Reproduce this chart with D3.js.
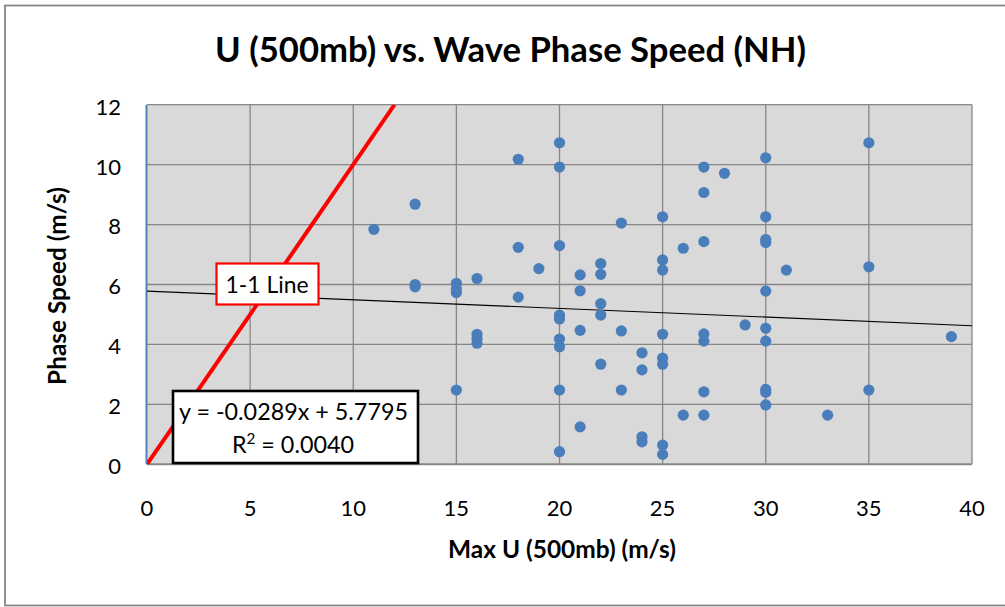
<!DOCTYPE html>
<html><head><meta charset="utf-8">
<script src="https://cdn.jsdelivr.net/npm/d3@7"></script>
<style>body{margin:0;background:#fff;} svg{display:block;}</style>
</head><body>
<svg id="c" width="1005" height="607"></svg>
<script>
const maxU = [11,13,13,13,15,15,15,15,16,16,16,16,18,18,18,19,
  20,20,20,20,20,20,20,20,20,21,21,21,21,22,22,22,22,22,23,23,23,
  24,24,24,24,25,25,25,25,25,25,25,25,26,26,27,27,27,27,27,27,27,28,29,
  30,30,30,30,30,30,30,30,30,30,31,33,35,35,35,39];
const phaseSpeed = [7.84,8.68,6.0,5.92,6.04,5.85,5.73,2.48,6.2,4.34,4.2,4.04,10.18,7.24,5.58,6.53,
  10.73,9.92,7.3,4.98,4.85,4.18,3.92,2.48,0.42,6.32,5.79,4.47,1.25,6.7,6.34,5.36,4.98,3.34,8.05,4.45,2.48,
  3.72,3.15,0.92,0.75,8.26,6.82,6.48,4.34,3.54,3.34,0.64,0.33,7.21,1.64,9.92,9.07,7.43,4.35,4.11,2.42,1.64,9.71,4.65,
  10.23,8.26,7.5,7.4,5.78,4.54,4.11,2.5,2.4,1.98,6.48,1.64,10.73,6.59,2.48,4.26];
const xTicks = [0,5,10,15,20,25,30,35,40];
const yTicks = [0,2,4,6,8,10,12];
const trendSlope = -0.0289, trendIntercept = 5.7795;
const titleText = "U (500mb) vs. Wave Phase Speed (NH)";
const xLabelText = "Max U (500mb) (m/s)";
const yLabelText = "Phase Speed (m/s)";
const eqLine1 = "y = -0.0289x + 5.7795";
const oneOneLabel = "1-1 Line";

const svg = d3.select("#c");
const FONT = "Lato, 'Open Sans', sans-serif";
const L = 147, R = 972, T = 104.7, B = 464.3;
const x = d3.scaleLinear().domain([0,40]).range([L,R]);
const y = d3.scaleLinear().domain([0,12]).range([B,T]);

function fit(sel, target) {
  const n = sel.node();
  const fs = parseFloat(sel.attr("font-size"));
  const w = n.getComputedTextLength();
  if (w > 0) sel.attr("font-size", (fs * target / w).toFixed(2));
}

// outer border
svg.append("rect").attr("x",5).attr("y",5.5).attr("width",1010).attr("height",600)
  .attr("fill","#fff").attr("stroke","#878787").attr("stroke-width",1.8);

// plot area
svg.append("rect").attr("x",L).attr("y",T).attr("width",R-L).attr("height",B-T).attr("fill","#d9d9d9");

const defs = svg.append("defs");
defs.append("clipPath").attr("id","clip").append("rect")
  .attr("x",L).attr("y",T).attr("width",R-L).attr("height",B-T);

// gridlines
svg.append("g").selectAll("line").data(xTicks.slice(1)).join("line")
  .attr("x1",d=>x(d)).attr("x2",d=>x(d)).attr("y1",T).attr("y2",B)
  .attr("stroke","#878787").attr("stroke-width",1.3);
svg.append("g").selectAll("line").data(yTicks.slice(1)).join("line")
  .attr("x1",L).attr("x2",R).attr("y1",d=>y(d)).attr("y2",d=>y(d))
  .attr("stroke","#878787").attr("stroke-width",1.3);
// bottom axis line
svg.append("line").attr("x1",L).attr("x2",R).attr("y1",B).attr("y2",B)
  .attr("stroke","#878787").attr("stroke-width",2);
// left axis line (blue)
svg.append("line").attr("x1",L-0.5).attr("x2",L-0.5).attr("y1",T).attr("y2",B)
  .attr("stroke","#4f81bd").attr("stroke-width",2);

// tick labels
svg.append("g").selectAll("text").data(xTicks).join("text")
  .attr("x",d=>x(d)).attr("y",516).attr("text-anchor","middle")
  .attr("font-family",FONT).attr("font-size",22).attr("fill","#000").text(d=>d);
svg.append("g").selectAll("text").data(yTicks).join("text")
  .attr("x",121).attr("y",d=>y(d)+9.9).attr("text-anchor","end")
  .attr("font-family",FONT).attr("font-size",22).attr("fill","#000").text(d=>d);

// trendline
const plotG = svg.append("g").attr("clip-path","url(#clip)");
plotG.append("line").attr("x1",x(0)).attr("y1",y(trendIntercept))
  .attr("x2",x(40)).attr("y2",y(trendIntercept+trendSlope*40))
  .attr("stroke","#000").attr("stroke-width",1.2);

// 1-1 line
plotG.append("line").attr("x1",x(0)).attr("y1",y(0)).attr("x2",x(12)).attr("y2",y(12))
  .attr("stroke","#ff0000").attr("stroke-width",4);

// points
svg.append("g").selectAll("circle").data(maxU.map((u,i)=>[u,phaseSpeed[i]])).join("circle")
  .attr("cx",d=>x(d[0])).attr("cy",d=>y(d[1])).attr("r",5.6).attr("fill","#4a7ebb");

// 1-1 label box
svg.append("rect").attr("x",216.5).attr("y",263.5).attr("width",102).attr("height",41)
  .attr("fill","#fff").attr("stroke","#ff0000").attr("stroke-width",2.2);
const t11 = svg.append("text").attr("x",267).attr("y",292.7).attr("text-anchor","middle")
  .attr("font-family",FONT).attr("font-size",22).attr("fill","#000").text(oneOneLabel);
fit(t11, 83);

// equation box
svg.append("rect").attr("x",173).attr("y",391).attr("width",245).attr("height",72)
  .attr("fill","#fff").attr("stroke","#000").attr("stroke-width",2.6);
const e1 = svg.append("text").attr("x",293.5).attr("y",420).attr("text-anchor","middle")
  .attr("font-family",FONT).attr("font-size",21).attr("fill","#000").text(eqLine1);
fit(e1, 229);
const e2 = svg.append("text").attr("x",293).attr("y",452.7).attr("text-anchor","middle")
  .attr("font-family",FONT).attr("font-size",e1.attr("font-size")).attr("fill","#000");
e2.append("tspan").text("R");
e2.append("tspan").attr("baseline-shift","super").attr("font-size",(parseFloat(e1.attr("font-size"))*0.65).toFixed(1)).text("2");
e2.append("tspan").text(" = 0.0040");

// title
const tt = svg.append("text").attr("x",510.5).attr("y",61.7).attr("text-anchor","middle")
  .attr("font-family",FONT).attr("font-weight","bold").attr("font-size",30).attr("fill","#000").text(titleText);
fit(tt, 591);

// axis titles
const xl = svg.append("text").attr("x",562).attr("y",558.3).attr("text-anchor","middle")
  .attr("font-family",FONT).attr("font-weight","bold").attr("font-size",22).attr("fill","#000").text(xLabelText);
fit(xl, 228);
const yl = svg.append("text").attr("transform","translate(66,286) rotate(-90)").attr("text-anchor","middle")
  .attr("font-family",FONT).attr("font-weight","bold").attr("font-size",22).attr("fill","#000").text(yLabelText);
fit(yl, 198);
</script>
</body></html>
